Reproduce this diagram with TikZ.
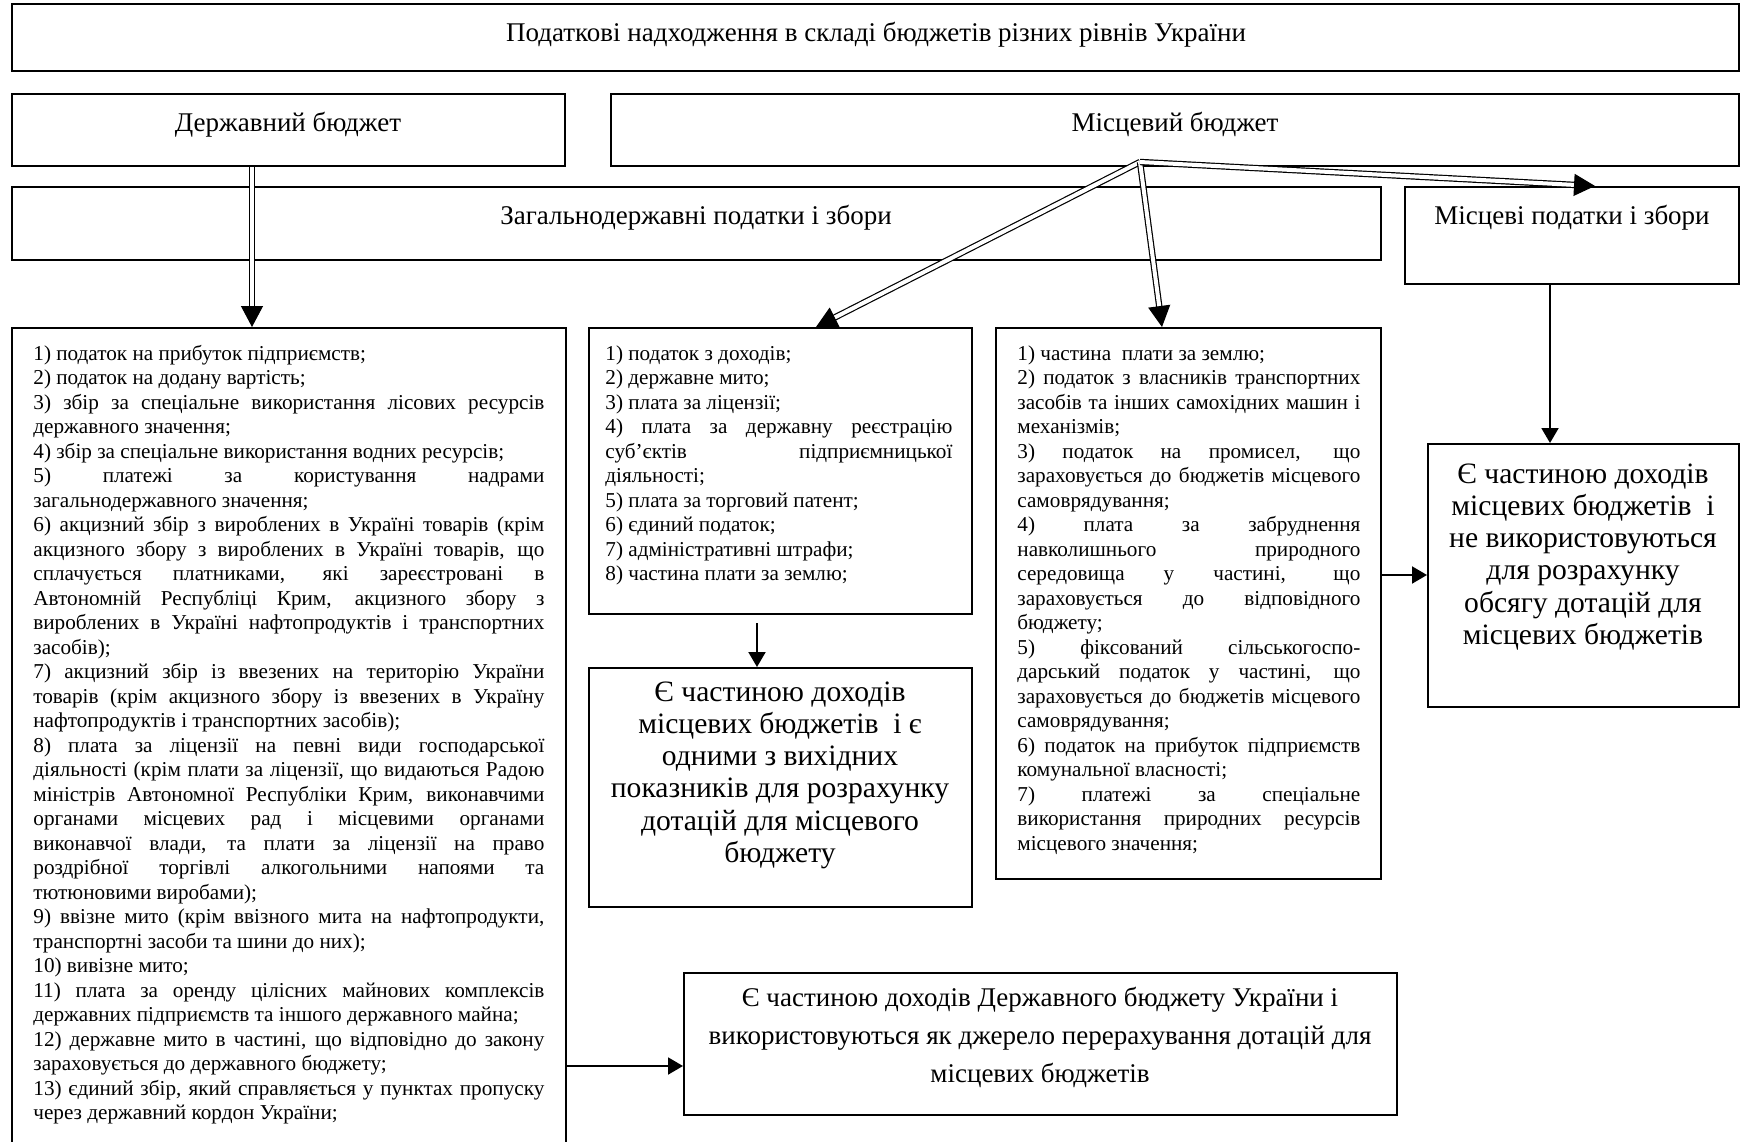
\documentclass[tikz,border=0pt]{standalone}
\usepackage{fontspec}
\setmainfont{Liberation Serif}
\usetikzlibrary{arrows.meta,calc,fit}
\newcommand\myJ[1]{\hbox to\hsize{#1}}
\newcommand\myL[1]{\hbox{#1}}
\newcommand\myC[1]{\hbox to\hsize{\hfil#1\hfil}}
\begin{document}
\begin{tikzpicture}[x=0.5pt,y=-0.5pt,
  box/.style={draw, line width=1pt, inner sep=0pt},
  dbl/.style={draw, double=white, double distance=2pt, line width=0.6pt},
  headD/.style={line width=0.6pt, -{Triangle[length=10.5pt,width=11pt]}},
  sarr/.style={line width=1pt, -{Triangle[length=7.5pt,width=8.5pt]}},
  hdr/.style={font=\fontsize{13.5pt}{16pt}\selectfont, inner sep=0pt, anchor=base},
  lst/.style={font=\fontsize{10.6pt}{12.25pt}\selectfont, inner sep=0pt, anchor=base west},
  big/.style={font=\fontsize{14.8pt}{16.15pt}\selectfont, inner sep=0pt, anchor=base},
  mid/.style={font=\fontsize{13.5pt}{19pt}\selectfont, inner sep=0pt, anchor=base}]
\useasboundingbox (0,0) rectangle (1740,1141);
% boxes
\node[box, fit={(12,4) (1739,71)}] (top) {};
\node[box, fit={(12,94) (565,166)}] (dbud) {};
\node[box, fit={(611,94) (1739,166)}] (mbud) {};
\node[box, fit={(12,187) (1381,260)}] (zag) {};
\node[box, fit={(1405,187) (1739,284)}] (mpod) {};
\node[box, fit={(12,328) (566,1160)}] (llist) {};
\node[box, fit={(589,328) (972,614)}] (mlist) {};
\node[box, fit={(996,328) (1381,879)}] (rlist) {};
\node[box, fit={(589,668) (972,907)}] (mres) {};
\node[box, fit={(1428,444) (1739,707)}] (rres) {};
\node[box, fit={(684,973) (1397,1115)}] (bres) {};
% header texts
\node[hdr] (ttop) at (876,41) {Податкові надходження в складі бюджетів різних рівнів України};
\node[hdr] (tdbud) at (288,131) {Державний бюджет};
\node[hdr] (tmbud) at (1175,131) {Місцевий бюджет};
\node[hdr] (tzag) at (696,224) {Загальнодержавні податки і збори};
\node[hdr] (tmpod) at (1572,224) {Місцеві податки і збори};
% list texts
\node[lst] (tllist) at (33,360) {\vtop{\hsize=255.5pt
\myL{1) податок на прибуток підприємств;}
\myL{2) податок на додану вартість;}
\myJ{3) збір за спеціальне використання лісових ресурсів}
\myL{державного значення;}
\myL{4) збір за спеціальне використання водних ресурсів;}
\myJ{5) платежі за користування надрами}
\myL{загальнодержавного значення;}
\myJ{6) акцизний збір з вироблених в Україні товарів (крім}
\myJ{акцизного збору з вироблених в Україні товарів, що}
\myJ{сплачується платниками, які зареєстровані в}
\myJ{Автономній Республіці Крим, акцизного збору з}
\myJ{вироблених в Україні нафтопродуктів і транспортних}
\myL{засобів);}
\myJ{7) акцизний збір із ввезених на територію України}
\myJ{товарів (крім акцизного збору із ввезених в Україну}
\myL{нафтопродуктів і транспортних засобів);}
\myJ{8) плата за ліцензії на певні види господарської}
\myJ{діяльності (крім плати за ліцензії, що видаються Радою}
\myJ{міністрів Автономної Республіки Крим, виконавчими}
\myJ{органами місцевих рад і місцевими органами}
\myJ{виконавчої влади, та плати за ліцензії на право}
\myJ{роздрібної торгівлі алкогольними напоями та}
\myL{тютюновими виробами);}
\myJ{9) ввізне мито (крім ввізного мита на нафтопродукти,}
\myL{транспортні засоби та шини до них);}
\myL{10) вивізне мито;}
\myJ{11) плата за оренду цілісних майнових комплексів}
\myL{державних підприємств та іншого державного майна;}
\myJ{12) державне мито в частині, що відповідно до закону}
\myL{зараховується до державного бюджету;}
\myJ{13) єдиний збір, який справляється у пунктах пропуску}
\myL{через державний кордон України;}}};
\node[lst] (tmlist) at (605,360) {\vtop{\hsize=173.5pt
\myL{1) податок з доходів;}
\myL{2) державне мито;}
\myL{3) плата за ліцензії;}
\myJ{4) плата за державну реєстрацію}
\myJ{суб’єктів підприємницької}
\myL{діяльності;}
\myL{5) плата за торговий патент;}
\myL{6) єдиний податок;}
\myL{7) адміністративні штрафи;}
\myL{8) частина плати за землю;}}};
\node[lst] (trlist) at (1017,360) {\vtop{\hsize=171.5pt
\myL{1) частина \ плати за землю;}
\myJ{2) податок з власників транспортних}
\myJ{засобів та інших самохідних машин і}
\myL{механізмів;}
\myJ{3) податок на промисел, що}
\myJ{зараховується до бюджетів місцевого}
\myL{самоврядування;}
\myJ{4) плата за забруднення}
\myJ{навколишнього природного}
\myJ{середовища у частині, що}
\myJ{зараховується до відповідного}
\myL{бюджету;}
\myJ{5) фіксований сільськогоспо-}
\myJ{дарський податок у частині, що}
\myJ{зараховується до бюджетів місцевого}
\myL{самоврядування;}
\myJ{6) податок на прибуток підприємств}
\myL{комунальної власності;}
\myJ{7) платежі за спеціальне}
\myJ{використання природних ресурсів}
\myL{місцевого значення;}}};
% result texts
\node[big] (tmres) at (780,701) {\vtop{\hsize=185pt
\myC{Є частиною доходів}
\myC{місцевих бюджетів \ і є}
\myC{одними з вихідних}
\myC{показників для розрахунку}
\myC{дотацій для місцевого}
\myC{бюджету}}};
\node[big] (trres) at (1583,483) {\vtop{\hsize=150pt
\myC{Є частиною доходів}
\myC{місцевих бюджетів \ і}
\myC{не використовуються}
\myC{для розрахунку}
\myC{обсягу дотацій для}
\myC{місцевих бюджетів}}};
\node[mid] (tbres) at (1040,1006) {\vtop{\hsize=350pt
\myC{Є частиною доходів Державного бюджету України і}
\myC{використовуються як джерело перерахування дотацій для}
\myC{місцевих бюджетів}}};
% helper coordinates
\coordinate (o) at (1140,162);
\coordinate (xa) at (252,0);
\coordinate (xb) at (816,0);
\coordinate (xc) at (1162,0);
\coordinate (xd) at (1595,0);
\coordinate (xe) at (1550,0);
\coordinate (xf) at (757,0);
\coordinate (ya) at (0,575);
\coordinate (yb) at (0,1066);
\coordinate (d1s) at (dbud.south -| xa);
\coordinate (d1e) at (llist.north -| xa);
\coordinate (e2) at (mlist.north -| xb);
\coordinate (e3) at (rlist.north -| xc);
\coordinate (e4) at (mpod.north -| xd);
% double arrows
\draw[dbl, shorten >=9pt] (d1s) -- (d1e);
\draw[headD] ($(d1e)!10.5pt!(d1s)$) -- (d1e);
\draw[dbl, shorten >=9pt] (o) -- (e2);
\draw[headD] ($(e2)!10.5pt!(o)$) -- (e2);
\draw[dbl, shorten >=9pt] (o) -- (e3);
\draw[headD] ($(e3)!10.5pt!(o)$) -- (e3);
\draw[dbl, shorten >=9pt] (o) -- (e4);
\draw[headD] ($(e4)!10.5pt!(o)$) -- (e4);
% single arrows
\draw[sarr] (mpod.south -| xe) -- (rres.north -| xe);
\draw[sarr, shorten <=4pt] (mlist.south -| xf) -- (mres.north -| xf);
\draw[sarr] (rlist.east |- ya) -- (rres.west |- ya);
\draw[sarr] (llist.east |- yb) -- (bres.west |- yb);
\end{tikzpicture}
\end{document}
